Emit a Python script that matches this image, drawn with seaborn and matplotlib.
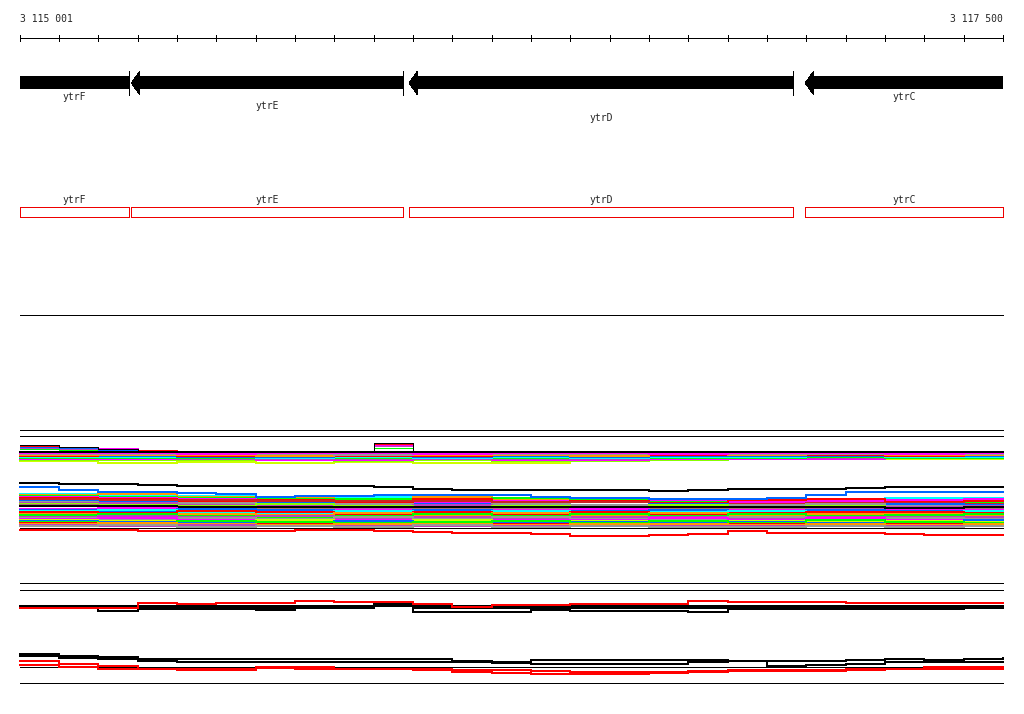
import pandas as pd
import matplotlib
matplotlib.use("Agg")
import matplotlib.pyplot as plt
from matplotlib.patches import Polygon, Rectangle
import seaborn as sns

sns.set_style("white")
plt.rcParams["font.family"] = ["DejaVu Sans Mono", "DejaVu Sans"]

# region shown
VIEW_START = 3115001
VIEW_END = 3117500

# genes (all on the minus strand)
gene_names = ["ytrF", "ytrE", "ytrD", "ytrC"]
gene_start = [3114700, 3115284, 3115990, 3116997]
gene_end = [3115279, 3115975, 3116966, 3117800]
gene_label_row = [0, 1, 2, 0]

# profile sampling positions
pos100 = [3115001] + list(range(3115100, 3117501, 100))
pos200 = [3115001] + list(range(3115200, 3117401, 200)) + [3117500]

K, R, M, G, C, B = "#000000", "#ff0000", "#ff00ff", "#00ff00", "#00ffff", "#0066ff"
O, Y, GR, P, DR, BR, L = "#ff9900", "#ccff00", "#999999", "#bb44bb", "#cc2222", "#aa7070", "#88ff00"

# ---- track A : upper profile group
A_main_level = 22
A_lines = {
    "a_bump_mag": (M, [15.5,16.5,18,20,21,22,21,22,21,14.5,21,21,22,21,22,21,21,22,21,22,21,21,22,21,21,21]),
    "a_bump_pur": (P, [18,19,20,21,21,21,21,21,21,16,21,21,21,21,21,21,21,21,21,21,21,21,21,21,21,21]),
    "a_bump_grn": (G, [19,20,21,21,21,21,21,21,21,18,21,21,21,21,21,21,21,21,21,21,21,21,21,21,21,21]),
    "a_bump_blue": (B, [17,18,20,21,21,21,22,21,22,14,22,21,21,22,21,22,22,21,22,21,22,22,21,22,21,21]),
    "a_bump_red": (R, [16,17,19,20,22,22,22,22,22,13.5,21,22,22,22,22,22,22,22,22,22,22,22,22,22,22,22]),
    "a_bump_black": (K, [15,17,19,21,22,22,22,22,22,13,22,22,22,22,22,22,22,22,22,22,22,22,22,22,22,22]),
}
A_band = {
    "a_dred": (DR, [27,25,27,25,27,25,26,24,26,24,26,25,25,25]),
    "a_yellow": (Y, [31,33,32,33,32,33,33,31,30,29,29,29,29,29]),
    "a_lime": (L, [30,30,30,29,31,30,31,31,30,28,28,28,28,28]),
    "a_mag2": (M, [29,29,28,30,30,29,30,30,29,29,29,27,27,27]),
    "a_purple": (P, [25,27,29,29,29,29,29,29,28,27,28,28,26,26]),
    "a_green": (G, [28,28,28,27,28,26,28,27,28,28,27,28,28,28]),
    "a_cyan": (C, [27,27,26,28,27,28,27,28,27,27,24,27,27,27]),
    "a_blue": (B, [24,26,27,27,26,27,26,27,26,26,26,24,26,26]),
    "a_red": (R, [26,24,26,25,26,26,24,25,25,23,25,26,24,24]),
    "a_orange": (O, [25,25,25,26,24,25,25,26,24,25,23,25,25,25]),
    "a_gray": (GR, [24,24,23,24,25,23,24,24,23,24,24,23,24,24]),
    "a_mag1": (M, [23,23,24,23,23,24,23,23,24,23,23,24,23,23]),
}

# ---- track B : lower profile group
B_band = {
    "b_cyan1": (C, [14,15,16,17,17,18,19,19,19,19,19,18,18,18]),
    "b_orange1": (O, [15,14,17,18,20,17,20,22,21,19,20,21,20,20]),
    "b_green1": (G, [16,17,18,19,19,20,18,20,22,21,22,21,22,22]),
    "b_mag1": (M, [17,18,19,20,21,22,21,22,20,22,21,20,19,19]),
    "b_red1": (R, [18,19,21,20,22,19,22,21,23,20,19,22,21,21]),
    "b_dred": (DR, [19,20,20,21,21,21,22,22,24,24,23,23,24,24]),
    "b_blue1": (B, [21,22,24,23,25,24,25,26,24,25,26,24,25,25]),
    "b_gray1": (GR, [22,24,23,25,24,26,24,25,26,25,24,26,27,27]),
    "b_purple1": (P, [23,23,25,26,28,25,27,28,27,27,28,27,26,26]),
    "b_lime1": (L, [24,25,26,24,26,28,26,27,25,28,26,28,28,28]),
    "b_brown": (BR, [25,27,28,29,27,29,29,30,28,29,27,29,29,29]),
    "b_black1": (K, [26,26,27,27,27,27,27,27,27,27,27,28,27,27]),
    "b_mag2": (M, [29,28,30,31,30,31,30,29,31,30,31,30,30,30]),
    "b_blue2": (B, [30,31,29,30,32,30,32,31,30,32,30,31,32,32]),
    "b_cyan2": (C, [31,30,32,33,31,33,31,33,32,31,33,33,31,31]),
    "b_red2": (R, [32,33,31,32,34,32,34,32,34,33,32,32,33,33]),
    "b_orange2": (O, [34,35,34,35,33,35,33,35,33,35,34,34,35,35]),
    "b_green2": (G, [35,34,36,37,36,34,36,34,36,34,36,35,34,34]),
    "b_purple2": (P, [37,36,37,36,38,37,38,37,37,38,37,37,37,37]),
    "b_gray2": (GR, [38,39,38,39,37,39,37,39,39,37,39,38,39,39]),
    "b_mag3": (M, [39,38,40,41,40,41,40,40,38,40,38,40,41,41]),
    "b_yellow": (Y, [40,41,42,40,42,40,42,41,42,41,42,41,42,42]),
    "b_blue3": (B, [41,42,43,43,41,43,43,42,43,42,43,43,40,40]),
    "b_green3": (G, [42,43,41,42,43,42,41,43,41,43,40,42,43,43]),
    "b_red3": (R, [43,44,45,44,45,45,44,45,45,44,45,44,45,45]),
    "b_orange3": (O, [44,43,44,45,44,44,45,44,44,45,44,45,44,44]),
    "b_purple3": (P, [45,46,45,46,46,46,46,46,46,46,46,46,46,46]),
    "b_gray3": (GR, [46,45,47,46,47,45,47,46,47,47,46,47,46,46]),
}
B_bottom_level = 48
B_lines = {
    "b_top_black": (K, [3,4,4,5,6,6,6,6,6,7,9,10,10,10,10,10,11,10,9,9,9,8,7,7,7,7]),
    "b_top_blue": (B, [6.5,10,12,12,12.5,14,16.5,16,16,15,15,15,15,16.5,17.5,18,19,19,18.5,17.5,15,12,12,12,12,12]),
    "b_low_red": (R, [50,50,49.5,50.5,51,51,51,49.5,50,51,51.5,53.3,53.3,53.5,55.5,55.5,55,54.3,51,52.5,53.3,53.3,54,54.5,55.3,55.3]),
}

# ---- track C
C_lines = {
    "c_black1": (K, [23,23,23,23,23,23,23,23,23,22.5,23,23,23,23,23,23,23,23,23,23,23,23,23,23,23,23]),
    "c_black3": (K, [23.5,23.5,25,24.5,24.5,24.5,25,24.5,24.5,22,24.5,24.5,24.5,24.5,24.5,24.5,24.5,24.5,25,25,25,25,25,25,24.5,24.5]),
    "c_black2": (K, [24.3,24.3,28,26,26,26,27.3,25,24.7,20.7,28.5,28.5,28.5,27,28.3,27.7,27.7,28.7,26.3,26.3,26.3,26.3,26.3,26.3,25,25]),
    "c_red": (R, [24.7,24.7,24.5,19.5,21,20.3,20.3,17.7,18.7,18.7,21,23.5,22,22,21.3,21.3,21,18,18.7,18.7,18.7,19.7,19.7,19.7,19.5,19.5]),
}

# ---- track D
D_black3_level = 27.3
D_lines = {
    "d_black1": (K, [14.3,15.5,16.7,18.5,19.3,19.3,19.3,19.3,19.3,19.3,19.3,20.7,21.5,20,20,20,20,20.3,20.7,20.7,20.7,20,19.3,19.8,19,18]),
    "d_black2": (K, [16.3,18.3,19.3,20.7,21.7,21.7,21.7,21.7,21.7,21.7,21.7,22,22.7,23.5,24,24,24,21.5,21,25.5,25.3,23.7,22.3,22.3,22.3,22.3]),
    "d_red1": (R, [21.3,24,26,28.5,30,29.5,28,28.5,29,29,29,29.5,30,31,31.7,31.7,31.7,30.5,30,30,30,29.5,28.5,27.2,26.7,26.7]),
    "d_red2": (R, [24.7,26.5,28.8,29.3,29.3,29.3,27,27,28.5,29,29.5,31.5,33.3,33.8,33.8,34,33.3,31.5,30.7,30.7,30.7,29.3,29.3,29.3,28.7,28.7]),
}

# ---------------- layout (pixel-like rows, top = 0)
W, H = 1024, 714
PX_LEFT, PX_RIGHT = 20, 1003
bp_per_px = (VIEW_END - VIEW_START) / (PX_RIGHT - PX_LEFT)
TOP = {"A": 430, "B": 480, "C": 583, "D": 640}
THIN, THICK = 0.72, 1.44

fig = plt.figure(figsize=(W / 100, H / 100), dpi=100)
ax = fig.add_axes([0, 0, 1, 1])


def draw_profiles(series, pos, top, lw):
    rows = []
    for name, (color, vals) in series.items():
        for x, v in zip(pos, vals):
            rows.append((name, x, top + v))
    df = pd.DataFrame(rows, columns=["series", "pos", "y"])
    pal = {n: c for n, (c, _) in series.items()}
    sns.lineplot(data=df, x="pos", y="y", hue="series", hue_order=list(series),
                 palette=pal, estimator=None, sort=False, drawstyle="steps-post",
                 lw=lw, legend=False, ax=ax, antialiased=False)


def rule(y, lw=THIN, color="black"):
    ax.plot([VIEW_START, VIEW_END], [y, y], color=color, lw=lw, antialiased=False)


# ruler
ax.text(VIEW_START, 19, "3 115 001", ha="left", va="center", fontsize=7)
ax.text(VIEW_END, 19, "3 117 500", ha="right", va="center", fontsize=7)
rule(38)
ticks = [VIEW_START] + list(range(3115100, VIEW_END + 1, 100))
for t in ticks:
    ax.plot([t, t], [35, 41], color="black", lw=THIN, antialiased=False)

# gene arrows
head = 22
label_rows = [97, 106, 118]
for name, s, e, row in zip(gene_names, gene_start, gene_end, gene_label_row):
    s0, e0 = max(s, VIEW_START), min(e, VIEW_END)
    bar_left = s0 + head if s >= VIEW_START else s0
    ax.add_patch(Rectangle((bar_left, 76), e0 - bar_left, 13, color="black", lw=0, antialiased=False))
    if s >= VIEW_START:
        ax.add_patch(Polygon([[s, 83], [s + head, 71], [s + head, 95]], closed=True,
                             color="black", lw=0, antialiased=False))
    if e <= VIEW_END:
        ax.plot([e, e], [71, 95], color="black", lw=THIN, antialiased=False)
    ax.text((s0 + e0) / 2, label_rows[row], name, ha="center", va="center", fontsize=7)

# gene boxes
for name, s, e in zip(gene_names, gene_start, gene_end):
    s0, e0 = max(s, VIEW_START), min(e, VIEW_END)
    ax.add_patch(Rectangle((s0, 207), e0 - s0, 10, fill=False, edgecolor="#ee0000",
                           lw=THIN, antialiased=False))
    ax.text((s0 + e0) / 2, 200, name, ha="center", va="center", fontsize=7)

rule(315)

# track A
rule(TOP["A"])
rule(TOP["A"] + 6)
draw_profiles(A_band, pos200, TOP["A"], THICK)
draw_profiles(A_lines, pos100, TOP["A"], THIN)
rule(TOP["A"] + A_main_level, lw=THICK)

# track B
draw_profiles(B_band, pos200, TOP["B"], THICK)
rule(TOP["B"] + B_bottom_level, lw=THIN)
draw_profiles(B_lines, pos100, TOP["B"], THICK)

# track C
rule(TOP["C"])
rule(TOP["C"] + 7)
draw_profiles(C_lines, pos100, TOP["C"], THICK)

# track D
rule(TOP["D"] + D_black3_level)
draw_profiles(D_lines, pos100, TOP["D"], THICK)
rule(TOP["D"] + 43)

ax.set_xlim(VIEW_START - PX_LEFT * bp_per_px, VIEW_START + (W - PX_LEFT) * bp_per_px)
ax.set_ylim(H, 0)
ax.axis("off")

fig.savefig("out.png", dpi=100)
